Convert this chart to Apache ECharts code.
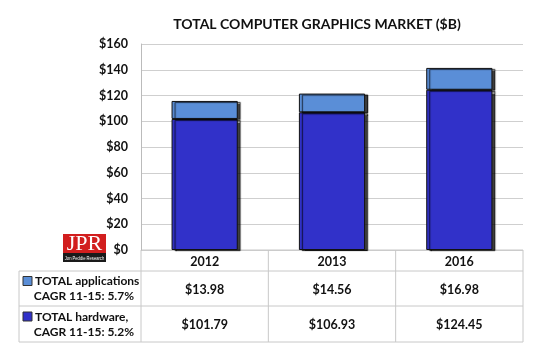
<!DOCTYPE html>
<html><head><meta charset="utf-8">
<script src="https://cdn.jsdelivr.net/npm/echarts@6/dist/echarts.min.js"></script>
<style>html,body{margin:0;padding:0;background:#fff}#c{width:534px;height:348px}</style>
</head><body><div id="c"></div>
<script>
var categories = ['2012', '2013', '2016'];
var hardware = [101.79, 106.93, 124.45];
var applications = [13.98, 14.56, 16.98];
var yTicks = [0, 20, 40, 60, 80, 100, 120, 140, 160];
var seriesNames = ['TOTAL applications', 'TOTAL hardware,'];
var seriesNotes = ['CAGR 11-15: 5.7%', 'CAGR 11-15: 5.2%'];
var title = 'TOTAL COMPUTER GRAPHICS MARKET ($B)';

var FONT = 'Lato, "Open Sans", sans-serif';
var darkBlue = '#3131c9', lightBlue = '#5a8ed7';
var chart = echarts.init(document.getElementById('c'), null, {renderer: 'canvas'});
var shadow = {borderColor: '#111', borderWidth: 1, shadowColor: 'rgba(0,0,0,0.75)', shadowOffsetX: 3, shadowOffsetY: 1, shadowBlur: 1};
chart.setOption({
  animation: false,
  textStyle: {fontFamily: FONT},
  title: {text: title, left: 312, textAlign: 'center', top: 12,
    textStyle: {fontFamily: FONT, fontWeight: 'bold', fontSize: 14, color: '#111'}},
  grid: {left: 141, right: 11, top: 44, bottom: 98, containLabel: false},
  xAxis: {type: 'category', data: categories,
    axisLine: {show: false}, axisTick: {show: false},
    axisLabel: {show: false}},
  yAxis: {type: 'value', min: yTicks[0], max: yTicks[yTicks.length - 1], interval: 20,
    axisLine: {show: true, lineStyle: {color: '#bbb'}}, axisTick: {show: false},
    splitLine: {lineStyle: {color: '#cfcfcf'}},
    axisLabel: {formatter: function (v) { return '$' + v; }, color: '#111', fontWeight: 'bold',
      fontSize: 12.5, fontFamily: FONT, margin: 13}},
  series: [
    {name: seriesNames[1], type: 'bar', stack: 't', data: hardware, barWidth: '52%',
      itemStyle: Object.assign({color: darkBlue}, shadow)},
    {name: seriesNames[0], type: 'bar', stack: 't', data: applications, barWidth: '52%',
      itemStyle: Object.assign({color: lightBlue}, shadow)}
  ]
});

function money(v) { return '$' + v.toFixed(2); }
var g = [];
var tLeft = 19, gLeft = 141, gRight = 523, y0 = 250, r1 = 271, r2 = 306, r3 = 342;
var colW = (gRight - gLeft) / categories.length;
var lc = '#c8c8c8';
function line(x1, y1, x2, y2) { g.push({type: 'line', shape: {x1: x1, y1: y1, x2: x2, y2: y2}, style: {stroke: lc, lineWidth: 1}, silent: true}); }
line(gLeft, y0, gRight, y0);
line(tLeft, r1, gRight, r1);
line(tLeft, r2, gRight, r2);
line(tLeft, r3, gRight, r3);
line(tLeft, r1, tLeft, r3);
line(gLeft, y0, gLeft, r3);
for (var i = 1; i <= categories.length; i++) line(gLeft + colW * i, y0, gLeft + colW * i, r3);
var txt = {fontFamily: FONT, fontWeight: 'bold', fontSize: 12.5, fill: '#111'};
for (var i = 0; i < categories.length; i++) {
  var cx = chart.convertToPixel({xAxisIndex: 0}, categories[i]);
  g.push({type: 'text', x: cx, y: (y0 + r1) / 2 + 1, style: Object.assign({text: categories[i], align: 'center', verticalAlign: 'middle'}, txt)});
  g.push({type: 'text', x: cx, y: (r1 + r2) / 2 + 1, style: Object.assign({text: money(applications[i]), align: 'center', verticalAlign: 'middle'}, txt)});
  g.push({type: 'text', x: cx, y: (r2 + r3) / 2 + 1, style: Object.assign({text: money(hardware[i]), align: 'center', verticalAlign: 'middle'}, txt)});
}
// legend cells
var rows = [[r1, r2, lightBlue, 0], [r2, r3, darkBlue, 1]];
rows.forEach(function (r) {
  var cy = (r[0] + r[1]) / 2;
  g.push({type: 'text', x: 35, y: cy - 7, style: Object.assign({text: seriesNames[r[3]], align: 'left', verticalAlign: 'middle'}, txt, {fontSize: 12})});
  g.push({type: 'text', x: 134, y: cy + 8, style: Object.assign({text: seriesNotes[r[3]], align: 'right', verticalAlign: 'middle'}, txt, {fontSize: 12})});
  g.push({type: 'rect', shape: {x: 23, y: cy - 12, width: 9, height: 9}, style: {fill: r[2], stroke: '#333', lineWidth: 1}});
});
// JPR logo
g.push({type: 'rect', shape: {x: 63, y: 234, width: 43, height: 20}, style: {fill: '#d21e1e'}});
g.push({type: 'rect', shape: {x: 63, y: 253, width: 43, height: 9}, style: {fill: '#1a1a1a'}});
g.push({type: 'text', x: 84.5, y: 244.5, style: {text: 'JPR', fontFamily: '"Liberation Serif", serif', fontSize: 22, fill: '#fff', align: 'center', verticalAlign: 'middle'}});
g.push({type: 'text', x: 84.5, y: 258, scaleX: 0.75, originX: 0, originY: 0, style: {text: 'Jon Peddie Research', fontFamily: '"Liberation Sans Narrow", "Liberation Sans", sans-serif', fontSize: 5.5, fill: '#fff', align: 'center', verticalAlign: 'middle'}});
chart.setOption({graphic: g});
</script></body></html>
